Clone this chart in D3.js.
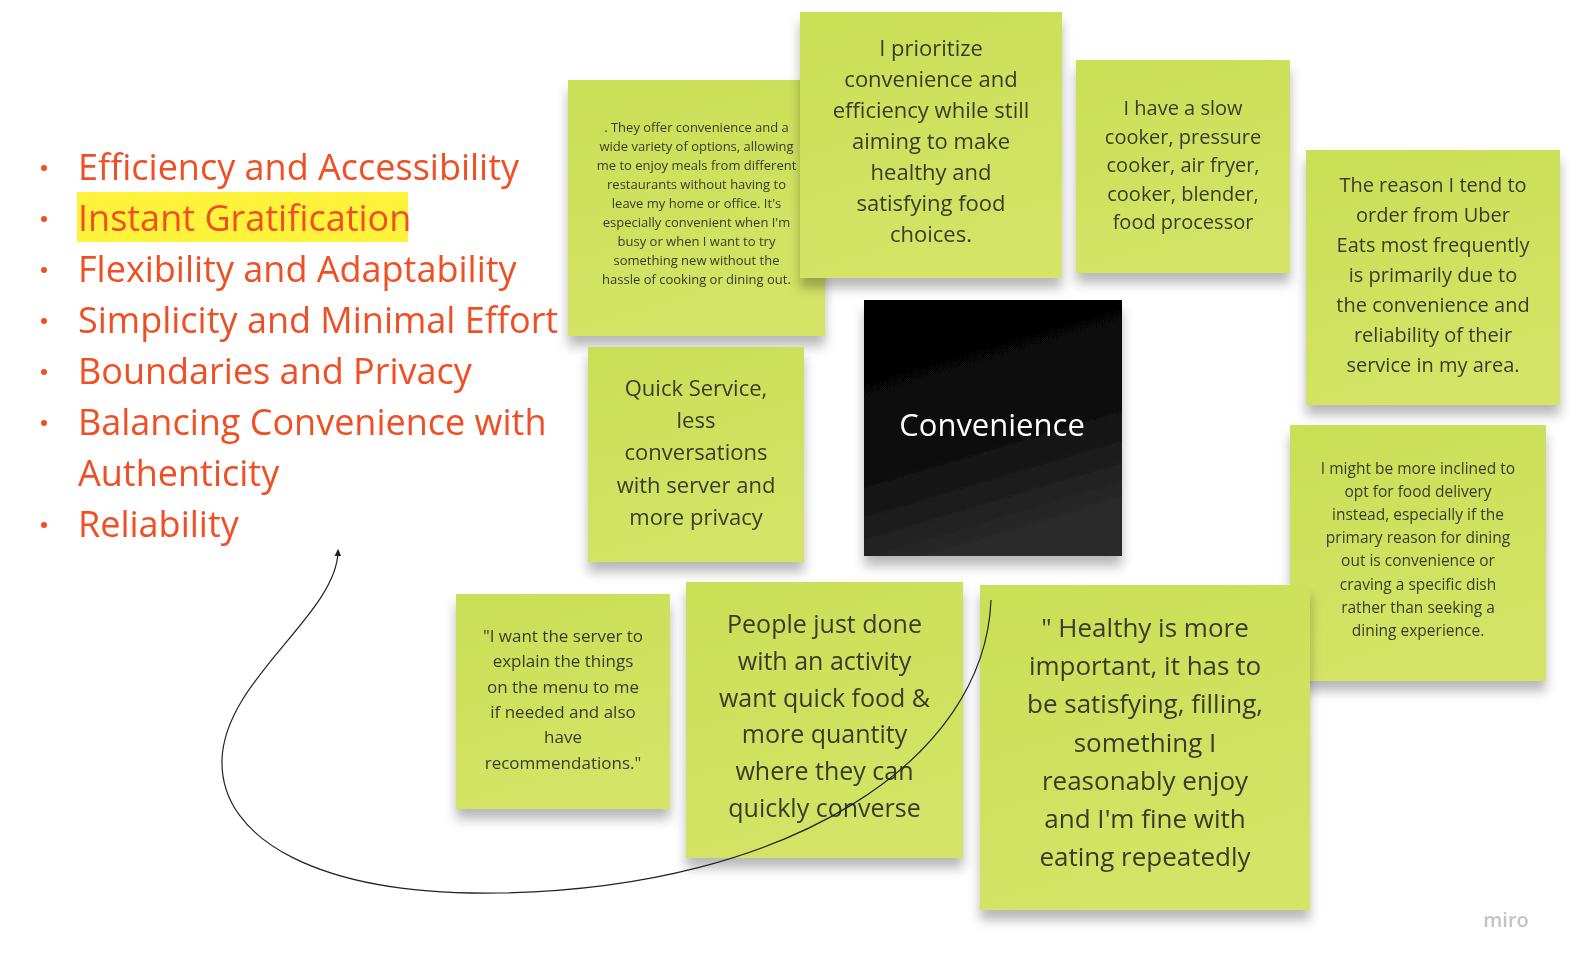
<!DOCTYPE html>
<html><head><meta charset="utf-8">
<script src="https://cdn.jsdelivr.net/npm/d3@7"></script>
<style>html,body{margin:0;padding:0;background:#fff;overflow:hidden;width:100%;height:100%;}svg{display:block;position:fixed;left:0;top:0;width:100vw;height:100vh;font-family:"Open Sans",sans-serif;}</style>
</head><body><svg id="board" viewBox="0 0 1594 980" preserveAspectRatio="xMinYMin meet"></svg>
<script>
const bullets = ['Efficiency and Accessibility', 'Instant Gratification', 'Flexibility and Adaptability',
  'Simplicity and Minimal Effort', 'Boundaries and Privacy', 'Balancing Convenience with|Authenticity', 'Reliability'];
const highlighted = 'Instant Gratification';

const noteTexts = [
  ['. They offer convenience and a', 'wide variety of options, allowing', 'me to enjoy meals from different', 'restaurants without having to', 'leave my home or office. It\'s', 'especially convenient when I\'m', 'busy or when I want to try', 'something new without the', 'hassle of cooking or dining out.'],
  ['I prioritize', 'convenience and', 'efficiency while still', 'aiming to make', 'healthy and', 'satisfying food', 'choices.'],
  ['I have a slow', 'cooker, pressure', 'cooker, air fryer,', 'cooker, blender,', 'food processor'],
  ['The reason I tend to', 'order from Uber', 'Eats most frequently', 'is primarily due to', 'the convenience and', 'reliability of their', 'service in my area.'],
  ['Quick Service,', 'less', 'conversations', 'with server and', 'more privacy'],
  ['I might be more inclined to', 'opt for food delivery', 'instead, especially if the', 'primary reason for dining', 'out is convenience or', 'craving a specific dish', 'rather than seeking a', 'dining experience.'],
  ['"I want the server to', 'explain the things', 'on the menu to me', 'if needed and also', 'have', 'recommendations."'],
  ['People just done', 'with an activity', 'want quick food &', 'more quantity', 'where they can', 'quickly converse'],
  ['" Healthy is more', 'important, it has to', 'be satisfying, filling,', 'something I', 'reasonably enjoy', 'and I\'m fine with', 'eating repeatedly']
];
const centreLabel = 'Convenience';

// layout: [x0, y0, x1, y1, fontSize, firstBaseline, lineStep]
const noteLayout = [
  [568, 80, 825, 336, 13, 132, 19],
  [800, 12, 1062, 278, 22, 56, 31],
  [1076, 60, 1290, 273, 20, 115, 28.5],
  [1306, 150, 1560, 405, 20, 192, 30],
  [588, 347, 804, 562, 22, 396, 32.2],
  [1290, 425, 1546, 681, 15.5, 474, 23.1],
  [456, 594, 670, 809, 17, 642, 25.3],
  [686, 582, 963, 858, 25, 633, 36.8],
  [980, 585, 1310, 910, 26, 637, 38.2]
];

const svg = d3.select('#board');
const defs = svg.append('defs');
const f = defs.append('filter').attr('id', 'shadow').attr('x', '-10%').attr('y', '-10%').attr('width', '120%').attr('height', '130%');
f.append('feDropShadow').attr('dx', 0).attr('dy', 10).attr('stdDeviation', 6).attr('flood-color', '#000').attr('flood-opacity', 0.28);
const g = defs.append('linearGradient').attr('id', 'note').attr('x1', 0).attr('y1', 0).attr('x2', 0.3).attr('y2', 1);
g.append('stop').attr('offset', 0).attr('stop-color', '#c9df56');
g.append('stop').attr('offset', 1).attr('stop-color', '#d3e466');
const gb = defs.append('linearGradient').attr('id', 'black').attr('x1', 0).attr('y1', 0).attr('x2', 0.3).attr('y2', 1);
gb.append('stop').attr('offset', 0).attr('stop-color', '#000');
gb.append('stop').attr('offset', 0.6).attr('stop-color', '#0c0c0c');
gb.append('stop').attr('offset', 1).attr('stop-color', '#2a2a2a');
defs.append('marker').attr('id', 'arrow').attr('viewBox', '0 0 10 10').attr('refX', 5).attr('refY', 5)
  .attr('markerWidth', 7).attr('markerHeight', 7).attr('orient', 'auto-start-reverse')
  .append('path').attr('d', 'M0,1 L9,5 L0,9 z').attr('fill', '#222');

// bullet list
const list = svg.append('g');
let row = 0;
bullets.forEach(b => {
  b.split('|').forEach((line, j) => {
    const y = 180 + row * 51;
    if (line === highlighted) {
      list.append('rect').attr('x', 77).attr('y', y - 39).attr('width', 331).attr('height', 50).attr('fill', '#fff23a');
    }
    if (j === 0) list.append('circle').attr('cx', 44).attr('cy', y - 12).attr('r', 3).attr('fill', '#f04e23');
    list.append('text').attr('x', 78).attr('y', y).attr('font-size', 36).attr('fill', '#f04e23').text(line);
    row++;
  });
});

function drawNote(i) {
  const [x0, y0, x1, y1, fs, by, step] = noteLayout[i];
  const ng = svg.append('g');
  ng.append('rect').attr('x', x0).attr('y', y0).attr('width', x1 - x0).attr('height', y1 - y0)
    .attr('fill', 'url(#note)').attr('filter', 'url(#shadow)');
  const t = ng.append('text').attr('text-anchor', 'middle').attr('font-size', fs).attr('fill', '#3b3b2c');
  noteTexts[i].forEach((line, k) => {
    t.append('tspan').attr('x', (x0 + x1) / 2).attr('y', by + k * step).text(line);
  });
}
[0, 1, 2, 3, 4, 5].forEach(drawNote);

// centre card
svg.append('rect').attr('x', 864).attr('y', 300).attr('width', 258).attr('height', 256)
  .attr('fill', 'url(#black)').attr('filter', 'url(#shadow)');
svg.append('text').attr('x', 992).attr('y', 436).attr('text-anchor', 'middle').attr('font-size', 31)
  .attr('fill', '#fff').text(centreLabel);

[6, 7, 8].forEach(drawNote);

// connector
svg.append('path')
  .attr('d', 'M991,600 C 985,760 790,888 500,893 C 320,896 220,840 222,760 C 224,680 336,615 338,552')
  .attr('fill', 'none').attr('stroke', '#222').attr('stroke-width', 1.2).attr('marker-end', 'url(#arrow)');

svg.append('text').attr('x', 1506).attr('y', 927).attr('text-anchor', 'middle').attr('font-size', 20)
  .attr('font-weight', 600).attr('fill', '#c4c4c4').text('miro');
</script></body></html>
